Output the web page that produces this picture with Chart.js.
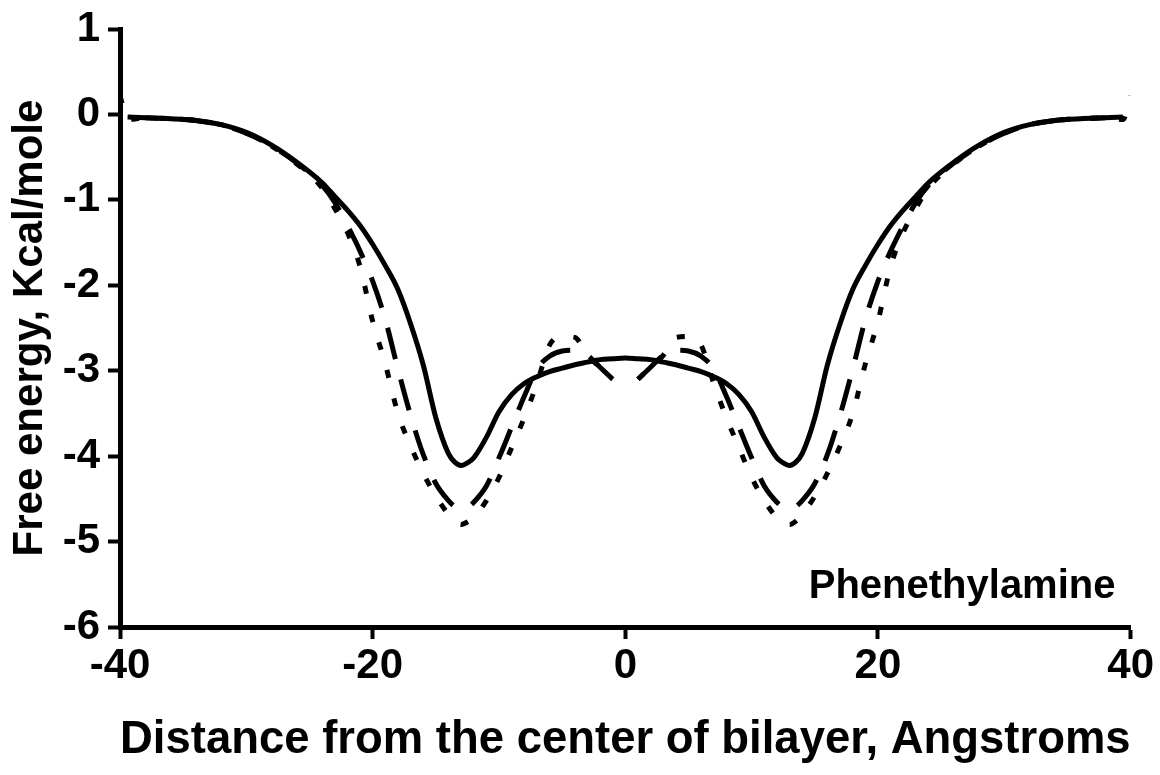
<!DOCTYPE html>
<html>
<head>
<meta charset="utf-8">
<script src="https://cdn.jsdelivr.net/npm/chart.js@4"></script>
<style>
  html, body { margin: 0; padding: 0; background: #fff; }
</style>
</head>
<body>
<canvas id="chart" width="1160" height="775"></canvas>
<script>
// distance from bilayer centre (A)
const distance = [
  -40, -39.4, -38, -36, -34, -32, -30, -28, -26, -24, -23, -22, -21, -20, -19, -18, -17, -16,
  -15, -14, -13.5, -13, -12.5, -12, -11, -10, -9, -8, -7, -6, -5, -4, -3, -2, -1,
  0,
  1, 2, 3, 4, 5, 6, 7, 8, 9, 10, 11, 12, 12.5, 13, 13.5, 14, 15,
  16, 17, 18, 19, 20, 21, 22, 23, 24, 26, 28, 30, 32, 34, 36, 38, 39.4, 40
];

// free energy profiles (kcal/mol), one per run
const solidRun = [
  null, null, -0.04, -0.05, -0.07, -0.12, -0.21, -0.36, -0.56, -0.80, -0.96, -1.12, -1.30, -1.52, -1.77, -2.05, -2.45, -2.93,
  -3.55, -3.97, -4.07, -4.11, -4.08, -4.02, -3.78, -3.48, -3.28, -3.15, -3.07, -3.01, -2.97, -2.93, -2.90, -2.87, -2.86,
  -2.85,
  -2.86, -2.87, -2.90, -2.93, -2.97, -3.01, -3.07, -3.15, -3.28, -3.48, -3.78, -4.02, -4.08, -4.11, -4.07, -3.97, -3.55,
  -2.93, -2.45, -2.05, -1.77, -1.52, -1.30, -1.12, -0.96, -0.80, -0.56, -0.36, -0.21, -0.12, -0.07, -0.05, -0.04, null, null
];

const longDashRun = [
  null, -0.03, -0.04, -0.05, -0.07, -0.12, -0.22, -0.37, -0.57, -0.83, -1.03, -1.30, -1.60, -1.95, -2.40, -2.98, -3.52, -3.98,
  -4.32, -4.52, -4.59, -4.62, -4.60, -4.54, -4.35, -4.02, -3.66, -3.30, -2.98, -2.83, -2.77, -2.76, -2.82, -2.96, -3.10,
  null,
  -3.10, -2.96, -2.82, -2.76, -2.77, -2.83, -2.98, -3.30, -3.66, -4.02, -4.35, -4.54, -4.60, -4.62, -4.59, -4.52, -4.32,
  -3.98, -3.52, -2.98, -2.40, -1.95, -1.60, -1.30, -1.03, -0.83, -0.57, -0.37, -0.22, -0.12, -0.07, -0.05, -0.04, -0.03, null
];

const shortDashRun = [
  0.22, -0.06, -0.04, -0.05, -0.07, -0.12, -0.22, -0.37, -0.58, -0.86, -1.10, -1.38, -1.78, -2.42, -2.92, -3.50, -3.88, -4.20,
  -4.47, -4.68, -4.76, -4.80, -4.77, -4.72, -4.52, -4.25, -3.90, -3.55, -3.15, -2.70, -2.60, -2.61, -2.82, -2.96, -3.10,
  null,
  -3.10, -2.96, -2.82, -2.61, -2.60, -2.70, -3.15, -3.55, -3.90, -4.25, -4.52, -4.72, -4.77, -4.80, -4.76, -4.68, -4.47,
  -4.20, -3.88, -3.50, -2.92, -2.42, -1.78, -1.38, -1.10, -0.86, -0.58, -0.37, -0.22, -0.12, -0.07, -0.05, -0.04, -0.06, 0.22
];

const xTicks = [-40, -20, 0, 20, 40];
const yTicks = [-6, -5, -4, -3, -2, -1, 0, 1];

const moleculeName = 'Phenethylamine';
const labelAt = [38.8, -5.53];

const FONT = '"Liberation Sans", Arial, sans-serif';

const toPoints = (ys) => distance.map((x, i) => ({ x, y: ys[i] }));

const lineStyle = (data, dash) => ({
  data: toPoints(data),
  borderColor: '#000',
  borderWidth: 5,
  borderDash: dash,
  borderCapStyle: 'butt',
  pointRadius: 0,
  cubicInterpolationMode: 'monotone',
  spanGaps: false,
  fill: false
});

const labelPlugin = {
  id: 'moleculeLabel',
  afterDraw(c) {
    const { ctx, scales: { x, y } } = c;
    ctx.save();
    ctx.font = `bold 40px ${FONT}`;
    ctx.fillStyle = '#000';
    ctx.textAlign = 'right';
    ctx.textBaseline = 'middle';
    ctx.fillText(moleculeName, x.getPixelForValue(labelAt[0]), y.getPixelForValue(labelAt[1]));
    ctx.restore();
  }
};

const axisGrid = {
  drawOnChartArea: false,
  drawTicks: true,
  tickLength: 12,
  tickWidth: 4,
  color: '#000'
};

new Chart(document.getElementById('chart').getContext('2d'), {
  type: 'line',
  data: {
    datasets: [
      lineStyle(solidRun, []),
      lineStyle(longDashRun, [32, 21]),
      lineStyle(shortDashRun, [8, 21])
    ]
  },
  options: {
    responsive: false,
    animation: false,
    layout: { padding: { top: 27, right: 28, left: 0, bottom: 0 } },
    plugins: {
      legend: { display: false },
      tooltip: { enabled: false }
    },
    scales: {
      x: {
        type: 'linear',
        min: -40,
        max: 40,
        afterBuildTicks: (s) => { s.ticks = xTicks.map(v => ({ value: v })); },
        afterFit: (s) => { s.height = 148; },
        ticks: {
          color: '#000',
          padding: 6,
          font: { family: FONT, size: 42, weight: 'bold', lineHeight: 1 }
        },
        grid: axisGrid,
        border: { display: true, color: '#000', width: 5 },
        title: {
          display: true,
          text: 'Distance from the center of bilayer, Angstroms',
          color: '#000',
          font: { family: FONT, size: 46, weight: 'bold', lineHeight: 1 },
          padding: { top: 0, bottom: 12 }
        }
      },
      y: {
        type: 'linear',
        min: -6,
        max: 1,
        afterBuildTicks: (s) => { s.ticks = yTicks.map(v => ({ value: v })); },
        afterFit: (s) => { s.width = 120; },
        ticks: {
          color: '#000',
          padding: 8,
          font: { family: FONT, size: 42, weight: 'bold', lineHeight: 1 }
        },
        grid: axisGrid,
        border: { display: true, color: '#000', width: 5 },
        title: {
          display: true,
          text: 'Free energy, Kcal/mole',
          color: '#000',
          font: { family: FONT, size: 42, weight: 'bold', lineHeight: 1 },
          padding: { top: 9, bottom: 0 }
        }
      }
    }
  },
  plugins: [labelPlugin]
});
</script>
</body>
</html>
